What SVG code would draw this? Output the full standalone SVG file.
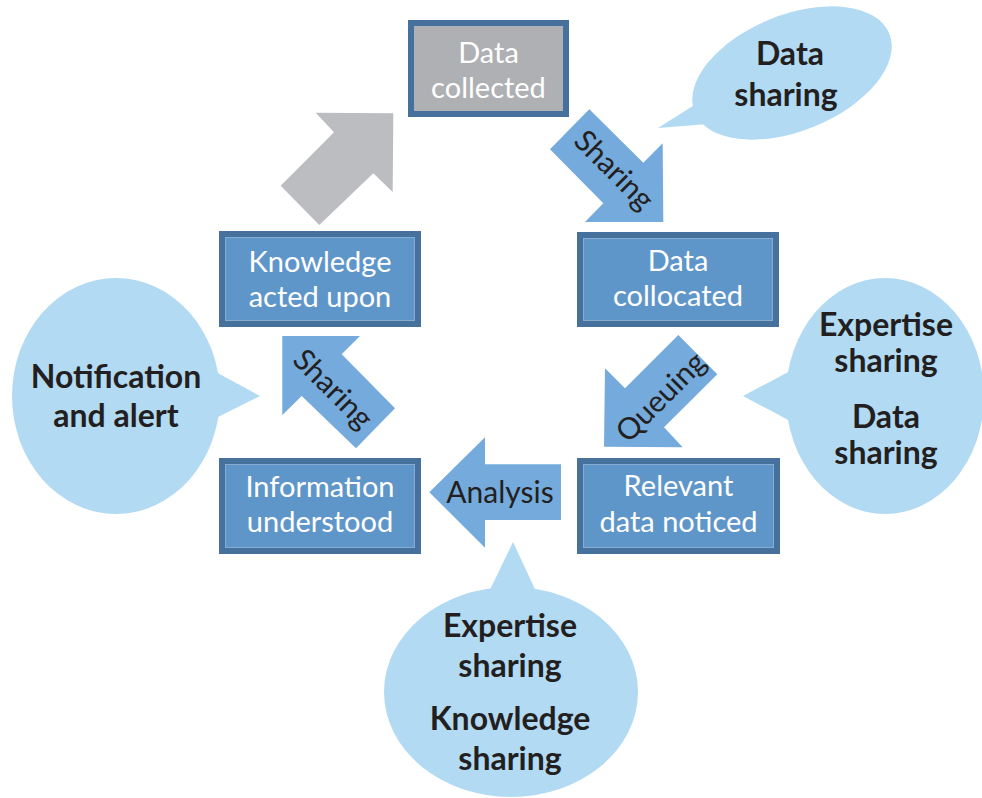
<svg xmlns="http://www.w3.org/2000/svg" width="982" height="798" viewBox="0 0 982 798">
<style>
.box{fill:#5f96ca;stroke:#46719d;stroke-width:6}
.boxg{fill:#aeb0b3;stroke:#46719d;stroke-width:6}
.inner{fill:none;stroke:#86acd2;stroke-width:1}
.bt{font-family:Lato,"Liberation Sans",sans-serif;font-size:29px;fill:#ffffff;text-anchor:middle}
.arr{fill:#74aadc}
.arrg{fill:#bcbdc0}
.at{font-family:Lato,"Liberation Sans",sans-serif;font-size:30px;fill:#231f20;text-anchor:middle}
.bub{fill:#b2daf3}
.bubt{font-family:Lato,"Liberation Sans",sans-serif;font-weight:bold;font-size:32px;fill:#231f20;text-anchor:middle}
</style>
<rect width="982" height="798" fill="#ffffff"/>
<g id="connectors">
<polygon class="arrg" points="315.7,112.7 393.3,113.3 392.7,192 373.3,173.3 319.3,225 280.7,185.7 334,132.3"/>
<polygon class="arr" points="589.3,109.3 643.3,162.7 662.7,143.3 663.3,222 585,222 603.3,203.3 550,149.3"/>
<polygon class="arr" points="678.3,335 717.3,374.3 664,427.3 682.7,447.3 604,446.7 605,368.3 625,388.3"/>
<polygon class="arr" points="561,464.3 561,520 485,520 485,547.7 429.3,492.3 485,437.3 485,464.3"/>
<polygon class="arr" points="282.3,336 360,336 341.7,354.3 395,408.3 356,448.3 301.7,396 282.3,415"/>
<text class="at" transform="translate(614,170) rotate(45)" y="10">Sharing</text>
<text class="at" transform="translate(661,397) rotate(-45)" y="10">Queuing</text>
<text class="at" x="500" y="503">Analysis</text>
<text class="at" transform="translate(333,389) rotate(45)" y="10">Sharing</text>
</g>
<g id="data-collected">
<rect class="boxg" x="411" y="23" width="155" height="91"/>
<text class="bt" x="488.5" y="63">Data</text>
<text class="bt" x="488.5" y="98">collected</text>
</g>
<g id="data-collocated">
<rect class="box" x="580" y="235" width="196" height="89"/>
<rect class="inner" x="583.5" y="238.5" width="189" height="82"/>
<text class="bt" x="678" y="271">Data</text>
<text class="bt" x="678" y="306">collocated</text>
</g>
<g id="knowledge-acted-upon">
<rect class="box" x="222" y="234" width="196" height="90"/>
<rect class="inner" x="225.5" y="237.5" width="189" height="83"/>
<text class="bt" x="320" y="272">Knowledge</text>
<text class="bt" x="320" y="307">acted upon</text>
</g>
<g id="information-understood">
<rect class="box" x="222" y="461" width="196" height="90"/>
<rect class="inner" x="225.5" y="464.5" width="189" height="83"/>
<text class="bt" x="320" y="497">Information</text>
<text class="bt" x="320" y="532">understood</text>
</g>
<g id="relevant-data-noticed">
<rect class="box" x="580" y="461" width="197" height="90"/>
<rect class="inner" x="583.5" y="464.5" width="190" height="83"/>
<text class="bt" x="678.5" y="496">Relevant</text>
<text class="bt" x="678.5" y="532">data noticed</text>
</g>
<g id="bubble-data-sharing">
<ellipse class="bub" cx="792" cy="73" rx="105" ry="58" transform="rotate(-22 792 73)"/>
<polygon class="bub" points="658,128 696,104 708,124"/>
<text class="bubt" x="790" y="65">Data</text>
<text class="bubt" x="786" y="106">sharing</text>
</g>
<g id="bubble-expertise-data">
<ellipse class="bub" cx="885" cy="396" rx="99" ry="118"/>
<polygon class="bub" points="743,396 792,370 792,422"/>
<text class="bubt" x="886" y="336">Expertise</text>
<text class="bubt" x="886" y="372">sharing</text>
<text class="bubt" x="886" y="428">Data</text>
<text class="bubt" x="886" y="464">sharing</text>
</g>
<g id="bubble-notification">
<ellipse class="bub" cx="116" cy="396" rx="104" ry="118"/>
<polygon class="bub" points="260,396 212,370 212,420"/>
<text class="bubt" x="116" y="388">Notification</text>
<text class="bubt" x="116" y="427">and alert</text>
</g>
<g id="bubble-expertise-knowledge">
<ellipse class="bub" cx="511" cy="692" rx="127" ry="105"/>
<polygon class="bub" points="513,542 485,600 540,600"/>
<text class="bubt" x="510" y="637">Expertise</text>
<text class="bubt" x="510" y="677">sharing</text>
<text class="bubt" x="510" y="730">Knowledge</text>
<text class="bubt" x="510" y="770">sharing</text>
</g>
</svg>
